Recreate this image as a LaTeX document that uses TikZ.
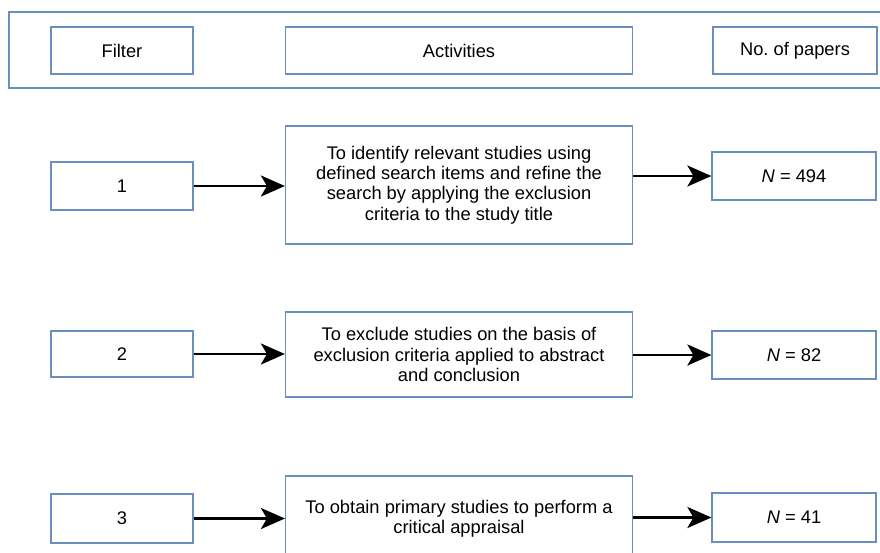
\documentclass[tikz,border=0pt]{standalone}
\usepackage{fontspec}
\setmainfont{Liberation Sans}
\usetikzlibrary{arrows.meta}
\definecolor{boxblue}{HTML}{6C8EBF}
\tikzset{
  box/.style={draw=boxblue, line width=1.2pt, inner sep=0pt, align=center,
              font=\fontsize{18.3}{20.3}\selectfont\frenchspacing, text=black},
  link/.style={line width=2.6pt, -{Stealth[length=24pt,width=21pt,inset=6pt]}}
}
\begin{document}
\begin{tikzpicture}[x=1pt,y=-1pt]
\useasboundingbox (0,0) rectangle (880,552);
% header
\node[box, minimum width=876pt, minimum height=76pt] (hdr) at (447,50) {};
\node[box, minimum width=142pt, minimum height=47pt] (hfilter) at (122,50.5) {Filter};
\node[box, minimum width=347pt, minimum height=47pt] (hact) at (459,50.5) {Activities};
\node[box, minimum width=164pt, minimum height=47pt] (hpap) at (795,50.5) {No. of papers};
% row 1
\node[box, minimum width=142pt, minimum height=48pt] (f1) at (122,186) {1};
\node[box, minimum width=347pt, minimum height=118pt] (a1) at (459,185)
  {To identify relevant studies using\\defined search items and refine the\\search by applying the exclusion\\criteria to the study title};
\node[box, minimum width=164pt, minimum height=48pt] (n1) at (794,176) {\textit{N} = 494};
% row 2
\node[box, minimum width=142pt, minimum height=46pt] (f2) at (122,354) {2};
\node[box, minimum width=347pt, minimum height=85pt] (a2) at (459,354.5)
  {To exclude studies on the basis of\\exclusion criteria applied to abstract\\and conclusion};
\node[box, minimum width=164pt, minimum height=48pt] (n2) at (794,355) {\textit{N} = 82};
% row 3
\node[box, minimum width=142pt, minimum height=49pt] (f3) at (122,518.5) {3};
\node[box, minimum width=347pt, minimum height=86pt] (a3) at (459,519)
  {To obtain primary studies to perform a\\critical appraisal};
\node[box, minimum width=164pt, minimum height=49pt] (n3) at (794,517.5) {\textit{N} = 41};
% arrows
\draw[link] (f1.east) -- (f1.east -| a1.west);
\draw[link] (n1.west -| a1.east) -- (n1.west);
\draw[link] (f2.east) -- (f2.east -| a2.west);
\draw[link] (n2.west -| a2.east) -- (n2.west);
\draw[link] (f3.east) -- (f3.east -| a3.west);
\draw[link] (n3.west -| a3.east) -- (n3.west);
\end{tikzpicture}
\end{document}
